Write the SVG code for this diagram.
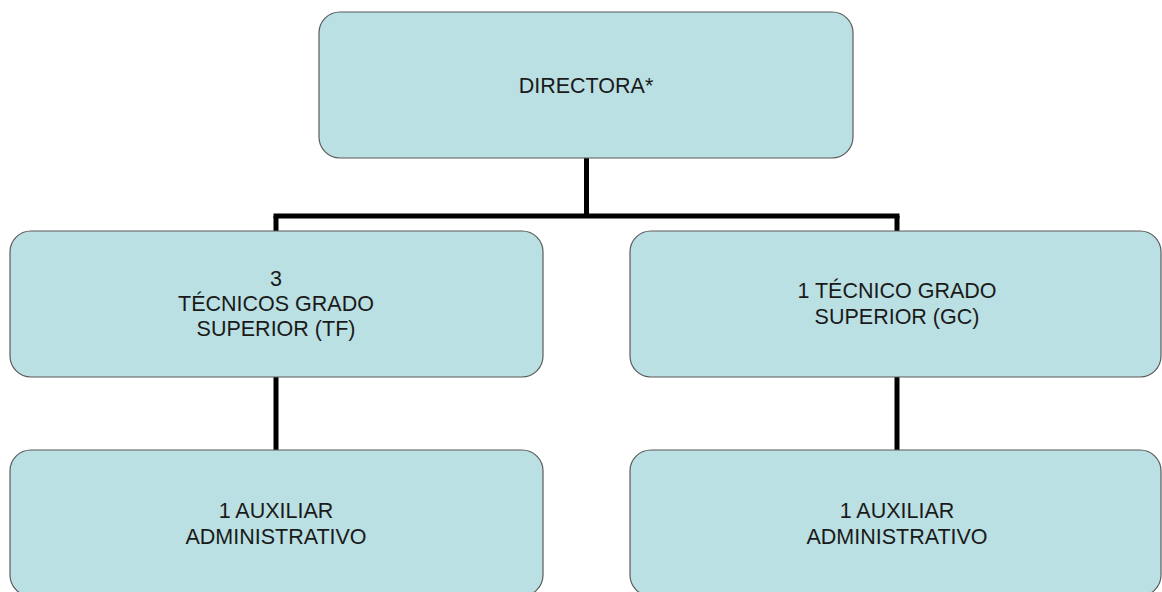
<svg xmlns="http://www.w3.org/2000/svg" width="1162" height="592" viewBox="0 0 1162 592">
<style>
.box{fill:#bae0e3;stroke:#5a5a5a;stroke-width:1.2}
.lbl{font-family:"Liberation Sans",Arial,sans-serif;font-size:21.5px;fill:#1a1a1a;text-anchor:middle}
.conn{stroke:#000;stroke-width:5;fill:none}
</style>
<rect width="1162" height="592" fill="#fff"/>
<g id="connectors">
<line class="conn" x1="586.5" y1="158" x2="586.5" y2="216"/>
<line class="conn" x1="273.5" y1="216" x2="899.5" y2="216"/>
<line class="conn" x1="276" y1="216" x2="276" y2="231"/>
<line class="conn" x1="897" y1="216" x2="897" y2="231"/>
<line class="conn" x1="276" y1="377" x2="276" y2="450"/>
<line class="conn" x1="897" y1="377" x2="897" y2="450"/>
</g>
<g id="directora">
<rect class="box" x="319" y="12" width="534" height="146" rx="21"/>
<text class="lbl" x="586" y="93">DIRECTORA*</text>
</g>
<g id="tecnicos-tf">
<rect class="box" x="10" y="231" width="533" height="146" rx="21"/>
<text class="lbl" x="276" y="286">3</text>
<text class="lbl" x="276" y="311">TÉCNICOS GRADO</text>
<text class="lbl" x="276" y="336">SUPERIOR (TF)</text>
</g>
<g id="tecnico-gc">
<rect class="box" x="630" y="231" width="531" height="146" rx="21"/>
<text class="lbl" x="897" y="298">1 TÉCNICO GRADO</text>
<text class="lbl" x="897" y="324">SUPERIOR (GC)</text>
</g>
<g id="auxiliar-left">
<rect class="box" x="10" y="450" width="533" height="146" rx="21"/>
<text class="lbl" x="276" y="518">1 AUXILIAR</text>
<text class="lbl" x="276" y="544">ADMINISTRATIVO</text>
</g>
<g id="auxiliar-right">
<rect class="box" x="630" y="450" width="531" height="146" rx="21"/>
<text class="lbl" x="897" y="518">1 AUXILIAR</text>
<text class="lbl" x="897" y="544">ADMINISTRATIVO</text>
</g>
</svg>
